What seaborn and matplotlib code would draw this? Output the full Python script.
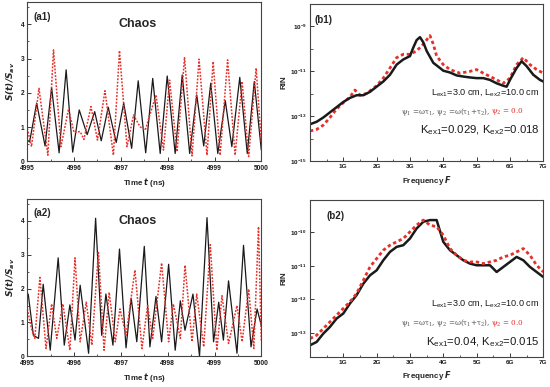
import numpy as np
import pandas as pd
import matplotlib
matplotlib.use("Agg")
import matplotlib.pyplot as plt
import seaborn as sns
from matplotlib.ticker import FixedLocator, MultipleLocator, FixedFormatter, NullFormatter

# ---------------- data ----------------
# (a1) time traces
t_a1_black = [4995.0, 4995.05, 4995.2, 4995.38, 4995.52, 4995.68, 4995.83, 4995.97, 4996.11, 4996.28,
              4996.44, 4996.58, 4996.73, 4996.9, 4997.06, 4997.23, 4997.37, 4997.53, 4997.68, 4997.84,
              4997.99, 4998.16, 4998.31, 4998.47, 4998.62, 4998.77, 4998.92, 4999.07, 4999.23, 4999.37,
              4999.54, 4999.7, 4999.85, 5000.0]
s_a1_black = [0.62, 0.57, 1.7, 0.45, 2.15, 0.25, 2.67, 0.27, 1.5, 0.78,
              1.45, 0.6, 1.58, 0.55, 1.7, 0.38, 2.35, 0.25, 2.42, 0.23,
              2.49, 0.23, 2.52, 0.23, 1.94, 0.45, 2.28, 0.23, 1.77, 0.43,
              2.45, 0.23, 2.33, 0.33]
t_a1_red = [4995.0, 4995.09, 4995.25, 4995.44, 4995.56, 4995.72, 4995.88, 4996.0, 4996.13, 4996.21,
            4996.36, 4996.5, 4996.66, 4996.84, 4996.97, 4997.13, 4997.27, 4997.41, 4997.52, 4997.75,
            4997.91, 4998.04, 4998.2, 4998.36, 4998.52, 4998.67, 4998.84, 4998.97, 4999.12, 4999.28,
            4999.44, 4999.59, 4999.73, 4999.89, 5000.0]
s_a1_red = [0.96, 0.43, 2.13, 0.18, 3.25, 0.43, 1.52, 0.84, 0.87, 0.64,
            1.6, 0.62, 2.06, 0.18, 3.23, 0.43, 1.35, 1.01, 0.91, 1.94,
            0.33, 2.37, 0.28, 3.04, 0.16, 2.98, 0.18, 2.91, 0.18, 2.96,
            0.18, 2.33, 0.14, 2.72, 0.53]

# (a2) time traces
t_a2_black = [4995.02, 4995.13, 4995.24, 4995.34, 4995.49, 4995.66, 4995.79, 4995.91, 4996.02, 4996.13,
              4996.31, 4996.46, 4996.59, 4996.68, 4996.83, 4996.97, 4997.11, 4997.22, 4997.34, 4997.5,
              4997.62, 4997.75, 4997.87, 4998.02, 4998.16, 4998.27, 4998.37, 4998.54, 4998.68, 4998.84,
              4998.98, 4999.09, 4999.19, 4999.3, 4999.48, 4999.62, 4999.78, 4999.91, 5000.0]
s_a2_black = [1.84, 0.62, 0.53, 2.13, 0.18, 2.91, 0.33, 1.52, 0.48, 2.1,
              0.09, 4.08, 0.62, 1.84, 0.33, 3.17, 0.25, 1.72, 0.43, 3.25,
              0.28, 1.77, 0.43, 2.72, 0.18, 1.64, 0.77, 1.84, 0.0, 4.1,
              0.43, 1.6, 0.48, 2.23, 0.09, 3.28, 0.28, 1.4, 0.91]
t_a2_red = [4995.0, 4995.09, 4995.16, 4995.27, 4995.4, 4995.52, 4995.63, 4995.76, 4995.91, 4996.02,
            4996.13, 4996.26, 4996.38, 4996.52, 4996.64, 4996.75, 4996.88, 4996.98, 4997.11, 4997.3,
            4997.45, 4997.57, 4997.68, 4997.87, 4998.02, 4998.12, 4998.27, 4998.37, 4998.52, 4998.62,
            4998.77, 4998.91, 4999.05, 4999.16, 4999.3, 4999.48, 4999.59, 4999.73, 4999.84, 4999.94,
            5000.0]
s_a2_red = [1.4, 0.82, 0.53, 2.33, 0.23, 1.55, 0.53, 1.55, 0.18, 2.91,
            0.43, 1.6, 0.33, 3.1, 0.18, 1.89, 0.43, 1.4, 0.62, 2.55,
            0.23, 1.5, 0.53, 2.76, 0.43, 1.55, 0.53, 2.69, 0.43, 1.84,
            0.28, 3.3, 0.18, 1.79, 0.38, 1.5, 0.43, 1.99, 0.23, 3.83,
            0.43]

# (b1) RIN spectra, log10 values
f_b1_black = [0.0, 0.2, 0.4, 0.6, 0.8, 1.0, 1.2, 1.4, 1.6, 1.8, 2.0, 2.2, 2.4, 2.6, 2.8, 3.0, 3.1, 3.2,
              3.3, 3.4, 3.5, 3.7, 3.9, 4.0, 4.2, 4.4, 4.6, 4.8, 5.0, 5.2, 5.4, 5.6, 5.8, 5.9, 6.0, 6.2,
              6.35, 6.5, 6.7, 6.9, 7.0]
rin_b1_black = [-13.35, -13.24, -13.05, -12.82, -12.59, -12.36, -12.18, -12.06, -12.06, -11.91, -11.68,
                -11.45, -11.15, -10.7, -10.47, -10.32, -9.94, -9.61, -9.48, -9.71, -10.09, -10.62,
                -10.85, -10.97, -11.05, -11.18, -11.23, -11.27, -11.3, -11.3, -11.38, -11.53, -11.64,
                -11.68, -11.38, -10.85, -10.55, -10.77, -11.15, -11.38, -11.45]
f_b1_red = [0.0, 0.2, 0.4, 0.6, 0.8, 1.0, 1.2, 1.35, 1.5, 1.7, 2.0, 2.2, 2.4, 2.6, 2.8, 3.0, 3.2, 3.4,
            3.6, 3.7, 3.8, 4.0, 4.2, 4.5, 4.8, 5.0, 5.2, 5.5, 5.8, 6.0, 6.2, 6.4, 6.6, 6.8, 7.0]
rin_b1_red = [-13.65, -13.58, -13.39, -13.05, -12.67, -12.39, -12.14, -11.83, -12.06, -11.98, -11.64,
              -11.3, -10.85, -10.39, -10.24, -10.24, -10.09, -9.79, -9.41, -9.79, -10.32, -10.7,
              -10.92, -11.08, -11.0, -10.92, -11.08, -11.3, -11.53, -11.3, -10.7, -10.39, -10.7,
              -10.92, -11.08]

# (b2) RIN spectra, log10 values
f_b2 = [0.0, 0.2, 0.4, 0.6, 0.8, 1.0, 1.2, 1.4, 1.6, 1.8, 2.0, 2.2, 2.4, 2.6, 2.8, 3.0, 3.2, 3.4,
        3.6, 3.8, 4.0, 4.2, 4.4, 4.6, 4.8, 5.0, 5.2, 5.4, 5.6, 5.8, 6.0, 6.2, 6.4, 6.6, 6.8, 7.0]
rin_b2_black = [-13.37, -13.27, -13.02, -12.82, -12.57, -12.42, -12.12, -11.87, -11.53, -11.28, -11.13,
                -10.83, -10.58, -10.43, -10.38, -10.18, -9.88, -9.68, -9.63, -9.63, -10.28, -10.53,
                -10.68, -10.83, -10.93, -10.98, -10.98, -10.98, -11.18, -11.03, -10.88, -10.73,
                -10.83, -11.03, -11.18, -11.33]
rin_b2_red = [-13.17, -13.07, -12.87, -12.67, -12.47, -12.27, -12.07, -11.82, -11.43, -11.03, -10.78,
              -10.53, -10.38, -10.28, -10.18, -9.98, -9.78, -9.63, -9.78, -9.83, -10.08, -10.48,
              -10.68, -10.83, -10.88, -10.88, -10.93, -10.88, -10.83, -10.73, -10.68, -10.58,
              -10.48, -10.68, -10.98, -11.18]

time_ticks = [4995, 4996, 4997, 4998, 4999, 5000]
s_ticks = [0, 1, 2, 3, 4]
freq_ticks = [1, 2, 3, 4, 5, 6, 7]
freq_labels = ["1G", "2G", "3G", "4G", "5G", "6G", "7G"]
b1_exps = [-15, -13, -11, -9]
b2_exps = [-13, -12, -11, -10]

# ---------------- style ----------------
sns.set_style("ticks")
plt.rcParams["font.family"] = ["Liberation Sans", "DejaVu Sans"]
plt.rcParams["mathtext.default"] = "regular"
plt.rcParams["axes.edgecolor"] = "#444444"
plt.rcParams["axes.linewidth"] = 0.8

BLACK = "#1a1a1a"
RED = "#e8302a"
RED_LS = (0, (1.2, 1.0))

fig = plt.figure(figsize=(5.5, 3.87), dpi=100)
ax_a1 = fig.add_axes([0.0496, 0.583, 0.4255, 0.412])
ax_b1 = fig.add_axes([0.5636, 0.583, 0.4242, 0.407])
ax_a2 = fig.add_axes([0.0496, 0.0793, 0.4255, 0.4065])
ax_b2 = fig.add_axes([0.5636, 0.0775, 0.4242, 0.4057])


def style_time(ax, label):
    ax.set_xlim(4995, 5000)
    ax.set_ylim(0, 4.65)
    ax.xaxis.set_major_locator(FixedLocator(time_ticks))
    ax.xaxis.set_minor_locator(MultipleLocator(0.5))
    ax.yaxis.set_major_locator(FixedLocator(s_ticks))
    ax.yaxis.set_minor_locator(MultipleLocator(0.5))
    ax.tick_params(which="both", direction="in", top=False, right=False,
                   labelsize=4.8, colors=BLACK)
    ax.tick_params(axis="x", pad=2.6)
    ax.tick_params(axis="y", pad=2.2)
    ax.tick_params(which="major", length=3, width=0.6)
    ax.tick_params(which="minor", length=1.6, width=0.5)
    for lab in ax.get_xticklabels() + ax.get_yticklabels():
        lab.set_fontweight("bold")
    ax.set_xlabel(r"Time $\mathbfit{t}$ (ns)", fontsize=5.8, fontweight="bold", labelpad=3)
    ax.set_ylabel(r"$\mathbfit{S(t)/S_{av}}$", fontsize=6.5, labelpad=2.5)
    ax.text(0.025, 0.94, label, transform=ax.transAxes, fontsize=7, fontweight="bold",
            ha="left", va="top")
    ax.text(0.47, 0.86, "Chaos", transform=ax.transAxes, fontsize=9, fontweight="bold",
            ha="center", va="center")
    for sp in ax.spines.values():
        sp.set_visible(True)


def style_rin(ax, label, exps, ylim, lx):
    ax.set_yscale("log")
    ax.set_xlim(0, 7)
    ax.set_ylim(*ylim)
    ax.xaxis.set_major_locator(FixedLocator(freq_ticks))
    ax.xaxis.set_major_formatter(FixedFormatter(freq_labels))
    ax.xaxis.set_minor_locator(MultipleLocator(0.5))
    ax.yaxis.set_major_locator(FixedLocator([10.0 ** e for e in exps]))
    ax.yaxis.set_major_formatter(FixedFormatter([r"10$^{%d}$" % e for e in exps]))
    lo, hi = int(np.floor(np.log10(ylim[0]))), int(np.ceil(np.log10(ylim[1])))
    ax.yaxis.set_minor_locator(FixedLocator([10.0 ** e for e in range(lo, hi + 1) if e not in exps]))
    ax.yaxis.set_minor_formatter(NullFormatter())
    ax.tick_params(which="both", direction="in", top=False, right=False,
                   labelsize=4.6, pad=2.2, colors=BLACK)
    ax.tick_params(which="major", length=3, width=0.6)
    ax.tick_params(which="minor", length=1.8, width=0.5)
    for lab in ax.get_xticklabels() + ax.get_yticklabels():
        lab.set_fontweight("bold")
    ax.set_xlabel(r"Frequency $\mathbfit{F}$", fontsize=5.8, fontweight="bold", labelpad=3)
    ax.set_ylabel("RIN", fontsize=5.8, fontweight="bold", labelpad=2)
    ax.text(lx, 0.93, label, transform=ax.transAxes, fontsize=7, fontweight="bold",
            ha="left", va="top")
    for sp in ax.spines.values():
        sp.set_visible(True)


def annot(ax, y0, kex_text):
    ax.text(0.985, y0, r"L$_{ex1}$=3.0 cm, L$_{ex2}$=10.0 cm", transform=ax.transAxes,
            fontsize=6.6, ha="right", va="center", color=BLACK)
    g = ax.text(0.39, y0 - 0.125,
                "\u03c8$_1$ =\u03c9\u03c4$_1$, \u03c8$_2$ =\u03c9(\u03c4$_1$+\u03c4$_2$), ",
                transform=ax.transAxes, fontsize=5.2, ha="left", va="center",
                color="#555555", family=["DejaVu Serif"])
    ax.annotate("\u03c8$_2$ = 0.0", xy=(1, 0.5), xycoords=g, fontsize=5.2, ha="left",
                va="center", color=RED, family=["DejaVu Serif"])
    ax.text(0.985, y0 - 0.245, kex_text, transform=ax.transAxes, fontsize=8.2,
            ha="right", va="center", color=BLACK)


# ---------------- plotting ----------------
df = pd.DataFrame({"t": t_a1_black, "s": s_a1_black})
sns.lineplot(data=df, x="t", y="s", ax=ax_a1, color=BLACK, lw=0.9, estimator=None, sort=False)
df = pd.DataFrame({"t": t_a1_red, "s": s_a1_red})
sns.lineplot(data=df, x="t", y="s", ax=ax_a1, color=RED, lw=1.1, ls=RED_LS, estimator=None, sort=False)
style_time(ax_a1, "(a1)")

df = pd.DataFrame({"t": t_a2_black, "s": s_a2_black})
sns.lineplot(data=df, x="t", y="s", ax=ax_a2, color=BLACK, lw=0.9, estimator=None, sort=False)
df = pd.DataFrame({"t": t_a2_red, "s": s_a2_red})
sns.lineplot(data=df, x="t", y="s", ax=ax_a2, color=RED, lw=1.1, ls=RED_LS, estimator=None, sort=False)
style_time(ax_a2, "(a2)")

df = pd.DataFrame({"f": f_b1_red, "r": 10.0 ** np.array(rin_b1_red)})
sns.lineplot(data=df, x="f", y="r", ax=ax_b1, color=RED, lw=2.0, ls=RED_LS, estimator=None, sort=False)
df = pd.DataFrame({"f": f_b1_black, "r": 10.0 ** np.array(rin_b1_black)})
sns.lineplot(data=df, x="f", y="r", ax=ax_b1, color=BLACK, lw=1.8, estimator=None, sort=False)
style_rin(ax_b1, "(b1)", b1_exps, (1e-15, 1e-8), 0.02)
annot(ax_b1, 0.44, r"K$_{ex1}$=0.029, K$_{ex2}$=0.018")

df = pd.DataFrame({"f": f_b2, "r": 10.0 ** np.array(rin_b2_black)})
sns.lineplot(data=df, x="f", y="r", ax=ax_b2, color=BLACK, lw=1.8, estimator=None, sort=False)
df = pd.DataFrame({"f": f_b2, "r": 10.0 ** np.array(rin_b2_red)})
sns.lineplot(data=df, x="f", y="r", ax=ax_b2, color=RED, lw=2.0, ls=RED_LS, estimator=None, sort=False)
style_rin(ax_b2, "(b2)", b2_exps, (10 ** -13.72, 10 ** -9.03), 0.07)
annot(ax_b2, 0.34, r"K$_{ex1}$=0.04, K$_{ex2}$=0.015")

fig.savefig("out.png", dpi=100)
